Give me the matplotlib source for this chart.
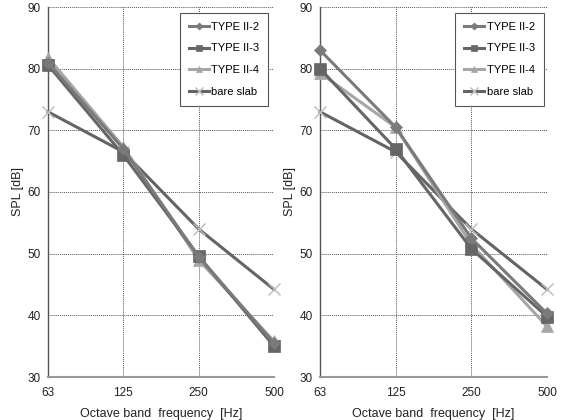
import matplotlib
matplotlib.use("Agg")
import matplotlib.pyplot as plt

freqs = ["63", "125", "250", "500"]
series_names = ["TYPE II-2", "TYPE II-3", "TYPE II-4", "bare slab"]

left_ii2 = [81.0, 67.0, 49.5, 35.5]
left_ii3 = [80.6, 66.0, 49.6, 35.0]
left_ii4 = [81.8, 67.3, 49.0, 35.8]
left_bare = [73.0, 66.5, 54.0, 44.2]

right_ii2 = [83.0, 70.5, 52.5, 40.3]
right_ii3 = [80.0, 67.0, 50.8, 39.8]
right_ii4 = [79.3, 70.5, 51.5, 38.2]
right_bare = [73.0, 66.5, 54.0, 44.2]

yticks = [30, 40, 50, 60, 70, 80, 90]

colors = ["#7a7a7a", "#666666", "#a6a6a6", "#646464"]
markers = ["D", "s", "^", "x"]
msizes = [6, 8, 8, 9]

plt.rcParams['font.family'] = ['Liberation Sans', 'DejaVu Sans']

fig = plt.figure(figsize=(5.67, 4.2), dpi=100)
axes = [fig.add_axes([48/567, 1-377/420, 226/567, 370/420]),
        fig.add_axes([320/567, 1-377/420, 227/567, 370/420])]

datasets = [[left_ii2, left_ii3, left_ii4, left_bare],
            [right_ii2, right_ii3, right_ii4, right_bare]]
legend_x = [0.973, 0.985]

x = list(range(len(freqs)))
for ax, data, lx in zip(axes, datasets, legend_x):
    handles = []
    for i, (vals, name) in enumerate(zip(data, series_names)):
        mec = "#bbbbbb" if markers[i] == "x" else colors[i]
        h, = ax.plot(x, vals, color=colors[i], lw=2.2, marker=markers[i],
                     ms=msizes[i], mec=mec, mfc=colors[i], mew=1.0 if markers[i] == "x" else 0.5,
                     label=name, clip_on=False, zorder=3 + (3 - i))
        handles.append(h)
    ax.set_xlim(0, 3)
    ax.set_ylim(30, 90)
    ax.set_xticks(x)
    ax.set_xticklabels(freqs)
    ax.set_yticks(yticks)
    ax.tick_params(length=0, labelsize=8.5, colors="#222222", pad=5)
    ax.tick_params(axis='x', pad=7)
    ax.grid(True, color="#555555", ls=(0, (1, 1)), lw=0.7)
    for s in ["top", "right"]:
        ax.spines[s].set_visible(False)
    ax.spines["left"].set_color("#555555")
    ax.spines["left"].set_linewidth(1.0)
    ax.spines["bottom"].set_color("#999999")
    ax.spines["bottom"].set_linewidth(1.5)
    ax.set_ylabel("SPL [dB]", fontsize=9, labelpad=3, color="#222222")
    ax.set_xlabel("Octave band  frequency  [Hz]", fontsize=9, labelpad=7, color="#222222")
    leg = ax.legend(handles=handles, loc="upper right", bbox_to_anchor=(lx, 0.984),
                    borderaxespad=0.0,
                    fontsize=8, frameon=True, fancybox=False, shadow=False,
                    handlelength=1.8, handletextpad=0.2, labelspacing=1.05,
                    borderpad=0.8, markerscale=0.6, framealpha=1.0)
    leg.get_frame().set_edgecolor("#555555")
    leg.get_frame().set_linewidth(0.8)

fig.savefig("out.png", dpi=100)
